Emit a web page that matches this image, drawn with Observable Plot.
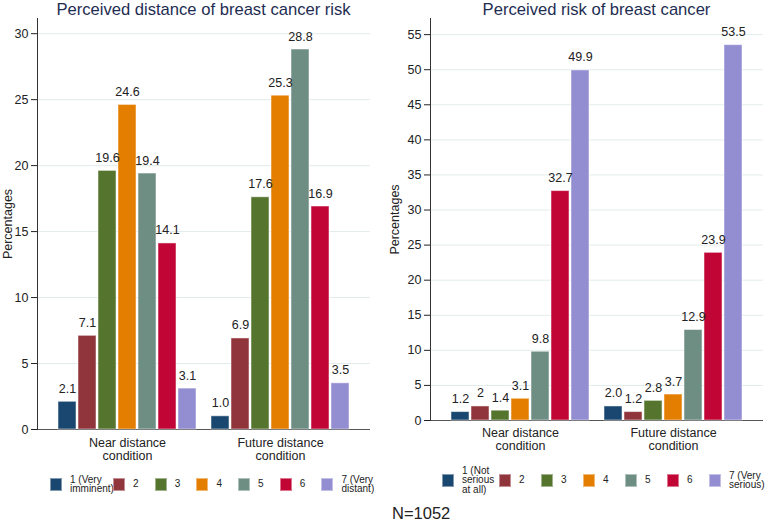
<!DOCTYPE html>
<html>
<head>
<meta charset="utf-8">
<script src="https://cdn.jsdelivr.net/npm/d3@7"></script>
<script src="https://cdn.jsdelivr.net/npm/@observablehq/plot@0.6"></script>
<style>
  body { margin: 0; background: #fff; font-family: "Liberation Sans", Arial, sans-serif; }
  #chart { position: relative; width: 765px; height: 521px; overflow: hidden; }
  .layer { position: absolute; top: 0; }
  .layer svg { display: block; }
  .title { position: absolute; top: 1px; font-size: 16.6px; line-height: 18px; color: #1e2d52; text-align: center; white-space: nowrap; }
  .legend { position: absolute; height: 30px; display: flex; align-items: center; font-size: 10px; line-height: 9.5px; color: #222; }
  .legend .item { display: flex; align-items: center; flex: none; }
  .legend .sw { width: 12px; height: 13px; margin-right: 8px; flex: none; box-sizing: border-box; border: 1px solid rgba(255,255,255,0.45); }
  .legend .lab { white-space: pre; }
  .note { position: absolute; left: 392px; top: 505px; font-size: 16.5px; line-height: 16.5px; color: #222; }
</style>
</head>
<body>
<div id="chart"></div>
<script>
// Survey response levels (1–7) and their colours
const levels = ["1", "2", "3", "4", "5", "6", "7"];
const levelColors = ["#1a476f", "#90353b", "#55752f", "#e37e00", "#6e8e84", "#c10534", "#938dd2"];

// Experimental conditions (bar groups)
const conditions = ["Near distance condition", "Future distance condition"];

// Perceived distance of breast cancer risk (% of respondents)
const distanceNear   = ["2.1", "7.1", "19.6", "24.6", "19.4", "14.1", "3.1"];
const distanceFuture = ["1.0", "6.9", "17.6", "25.3", "28.8", "16.9", "3.5"];
const distanceTicks  = [0, 5, 10, 15, 20, 25, 30];
const distanceLegend = ["1 (Very\nimminent)", "2", "3", "4", "5", "6", "7 (Very\ndistant)"];

// Perceived risk of breast cancer (% of respondents)
const riskNear   = ["1.2", "2", "1.4", "3.1", "9.8", "32.7", "49.9"];
const riskFuture = ["2.0", "1.2", "2.8", "3.7", "12.9", "23.9", "53.5"];
const riskTicks  = [0, 5, 10, 15, 20, 25, 30, 35, 40, 45, 50, 55];
const riskLegend = ["1 (Not\nserious\nat all)", "2", "3", "4", "5", "6", "7 (Very\nserious)"];

const sampleNote = "N=1052";

function toRows(near, future) {
  const rows = [];
  [near, future].forEach((labels, g) => {
    labels.forEach((label, i) => {
      rows.push({condition: conditions[g], level: levels[i], label, value: +label});
    });
  });
  return rows;
}

const chart = document.getElementById("chart");
const fontStyle = {background: "transparent", fontFamily: '"Liberation Sans", Arial, sans-serif', fontSize: "12.5px", color: "#222"};

function panel(cfg) {
  const {rows, ticks, yMax, left, width, marginLeft, marginRight, height, marginBottom,
         title, legend, legendLeft, legendTop, firstItemWidth, itemWidth, labelOffset, fxPadding} = cfg;
  const marginTop = 18;

  // Gridlines, baseline and the y axis run across the whole frame, so they
  // sit in a base layer beneath the faceted bars.
  const base = Plot.plot({
    width, height, marginLeft, marginRight, marginTop, marginBottom,
    style: fontStyle,
    y: {domain: [0, yMax], ticks, tickSize: 6, tickPadding: 3, label: "Percentages",
        labelAnchor: "center", labelOffset, labelArrow: "none"},
    marks: [
      Plot.ruleY(ticks.filter(t => t > 0), {stroke: "#e2ecec", strokeWidth: 1}),
      Plot.ruleY([0], {stroke: "#555"}),
      Plot.frame({anchor: "left", stroke: "#333"})
    ]
  });

  const bars = Plot.plot({
    width, height, marginLeft, marginRight, marginTop, marginBottom,
    style: fontStyle,
    fx: {domain: conditions, paddingInner: 0.088, paddingOuter: 0.128, axis: "bottom", label: null,
         tickSize: 0, tickPadding: fxPadding, tickFormat: d => d.replace(" condition", "\ncondition")},
    x: {domain: levels, paddingInner: 0.09, paddingOuter: 0, axis: null},
    y: {domain: [0, yMax], axis: null},
    color: {domain: levels, range: levelColors},
    marks: [
      Plot.barY(rows, {fx: "condition", x: "level", y: "value", fill: "level",
                       stroke: "white", strokeOpacity: 0.5, strokeWidth: 1}),
      Plot.text(rows, {fx: "condition", x: "level", y: "value", text: "label",
                       lineAnchor: "bottom", dy: -9, fill: "#222"})
    ]
  });

  for (const svg of [base, bars]) {
    const wrap = document.createElement("div");
    wrap.className = "layer";
    wrap.style.left = left + "px";
    wrap.appendChild(svg);
    chart.appendChild(wrap);
  }

  const t = document.createElement("div");
  t.className = "title";
  t.style.left = (left + marginLeft) + "px";
  t.style.width = (width - marginLeft - marginRight) + "px";
  t.textContent = title;
  chart.appendChild(t);

  const lg = document.createElement("div");
  lg.className = "legend";
  lg.style.left = legendLeft + "px";
  lg.style.top = legendTop + "px";
  legend.forEach((text, i) => {
    const item = document.createElement("div");
    item.className = "item";
    if (i === 0) item.style.width = firstItemWidth + "px";
    else if (i < legend.length - 1) item.style.width = itemWidth + "px";
    const sw = document.createElement("span");
    sw.className = "sw";
    sw.style.background = levelColors[i];
    const lab = document.createElement("span");
    lab.className = "lab";
    lab.textContent = text;
    item.append(sw, lab);
    lg.appendChild(item);
  });
  chart.appendChild(lg);
}

panel({
  rows: toRows(distanceNear, distanceFuture), ticks: distanceTicks, yMax: 31.15,
  left: 0, width: 380, marginLeft: 37, marginRight: 10, height: 470, marginBottom: 41,
  title: "Perceived distance of breast cancer risk",
  legend: distanceLegend, legendLeft: 50, legendTop: 469, firstItemWidth: 63, itemWidth: 41.7,
  labelOffset: 34.5, fxPadding: 9
});

panel({
  rows: toRows(riskNear, riskFuture), ticks: riskTicks, yMax: 57.3,
  left: 383, width: 382, marginLeft: 47, marginRight: 2, height: 470, marginBottom: 50,
  title: "Perceived risk of breast cancer",
  legend: riskLegend, legendLeft: 442, legendTop: 465, firstItemWidth: 57, itemWidth: 42,
  labelOffset: 40.5, fxPadding: 8
});

const note = document.createElement("div");
note.className = "note";
note.textContent = sampleNote;
chart.appendChild(note);
</script>
</body>
</html>
